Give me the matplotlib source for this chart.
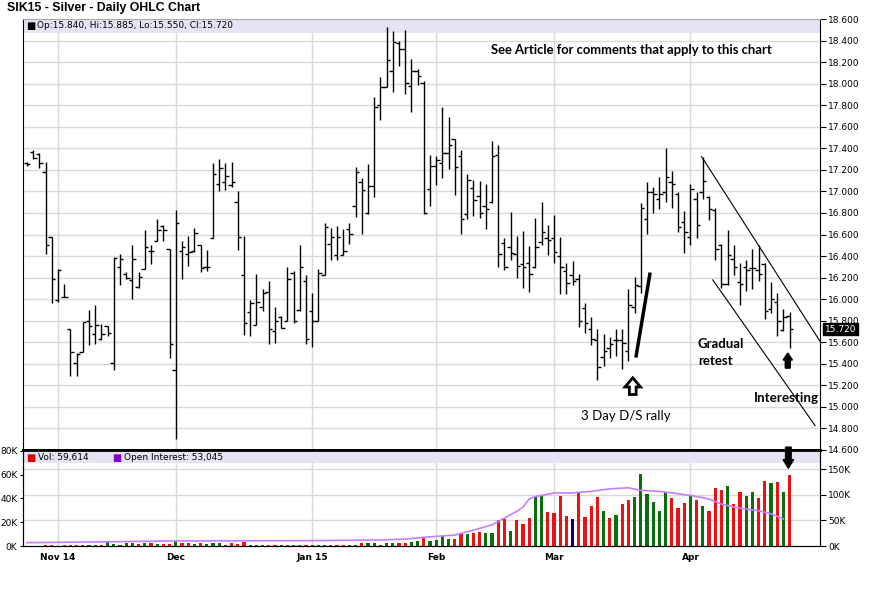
import numpy as np
import pandas as pd
import matplotlib
matplotlib.use('Agg')
import matplotlib.pyplot as plt
import matplotlib.transforms as mtransforms
from matplotlib.patches import Rectangle, FancyArrow

# trading days Oct 27 2014 .. Apr 24 2015 (exchange holidays removed)
holidays = ['2014-11-27', '2014-12-25', '2015-01-01', '2015-01-19', '2015-02-16', '2015-04-03']
dates = pd.bdate_range('2014-10-27', '2015-04-24')
dates = dates[~dates.isin(pd.to_datetime(holidays))]

month_labels = ['Nov 14', 'Dec', 'Jan 15', 'Feb', 'Mar', 'Apr']

opens = [17.26, 17.37, 17.35, 17.18, 16.58, 15.99, 16.02, 15.72, 15.41, 15.51,
         15.80, 15.68, 15.63, 15.75, 15.41, 16.30, 16.23, 16.18, 16.11, 16.28,
         16.45, 16.54, 16.68, 16.47, 15.34, 16.45, 16.42, 16.45, 16.50, 16.30,
         16.57, 17.07, 17.09, 17.06, 16.90, 16.22, 15.88, 15.76, 15.93, 16.07,
         15.70, 15.83, 15.80, 16.24, 15.90, 16.17, 15.89, 15.80, 16.22, 16.51,
         16.41, 16.41, 16.65, 16.86, 17.09, 16.80, 17.05, 17.80, 17.97, 18.12,
         18.38, 18.32, 17.98, 18.12, 18.01, 17.02, 17.24, 17.26, 17.36, 17.49,
         17.33, 16.79, 17.03, 16.96, 16.86, 16.90, 17.34, 16.52, 16.48, 16.42,
         16.33, 16.34, 16.30, 16.53, 16.57, 16.57, 16.40, 16.26, 16.22, 16.19,
         15.92, 15.72, 15.62, 15.46, 15.55, 15.62, 15.62, 15.52, 15.93, 16.12,
         16.74, 16.99, 16.93, 16.99, 17.09, 16.98, 16.72, 16.58, 16.93, 16.99,
         16.95, 16.83, 16.50, 16.14, 16.37, 16.16, 16.30, 16.29, 16.27, 16.33,
         15.91, 15.97, 15.71, 15.840]
highs = [17.27, 17.38, 17.36, 17.27, 16.58, 16.28, 16.14, 15.72, 15.50, 15.79,
         15.90, 15.95, 15.77, 15.75, 16.39, 16.42, 16.25, 16.50, 16.25, 16.64,
         16.50, 16.74, 16.69, 16.47, 16.83, 16.54, 16.59, 16.66, 16.50, 16.46,
         17.26, 17.30, 17.26, 17.27, 17.00, 16.59, 15.99, 16.23, 16.09, 16.17,
         15.93, 15.84, 16.30, 16.26, 16.50, 16.22, 16.06, 16.28, 16.71, 16.66,
         16.68, 16.65, 16.71, 17.23, 17.12, 17.25, 17.88, 18.06, 18.53, 18.49,
         18.40, 18.50, 18.23, 18.14, 18.02, 17.34, 17.33, 17.78, 17.69, 17.49,
         17.38, 17.16, 17.11, 17.10, 17.07, 17.47, 17.43, 16.57, 16.81, 16.59,
         16.63, 16.49, 16.75, 16.90, 16.69, 16.78, 16.58, 16.34, 16.35, 16.23,
         15.96, 15.83, 15.72, 15.68, 15.65, 15.72, 15.72, 16.09, 16.21, 16.89,
         17.09, 17.04, 17.13, 17.40, 17.19, 16.99, 16.82, 17.07, 16.99, 17.32,
         16.96, 16.85, 16.51, 16.64, 16.50, 16.34, 16.36, 16.47, 16.50, 16.34,
         16.16, 16.06, 15.91, 15.885]
lows = [17.24, 17.30, 17.22, 16.42, 15.96, 15.97, 16.02, 15.29, 15.29, 15.51,
        15.57, 15.58, 15.62, 15.66, 15.34, 16.13, 16.19, 16.00, 16.10, 16.28,
        16.33, 16.54, 16.54, 15.45, 14.70, 16.19, 16.31, 16.44, 16.25, 16.26,
        16.57, 17.00, 17.01, 17.04, 16.46, 15.67, 15.66, 15.76, 15.89, 15.58,
        15.59, 15.73, 15.80, 15.78, 15.89, 15.58, 15.56, 15.80, 16.22, 16.36,
        16.36, 16.41, 16.51, 16.76, 16.60, 16.79, 16.95, 17.66, 17.97, 17.92,
        18.16, 17.90, 17.74, 17.99, 16.79, 16.86, 17.06, 17.12, 17.21, 16.97,
        16.60, 16.74, 16.77, 16.75, 16.65, 16.89, 16.30, 16.27, 16.36, 16.20,
        16.10, 16.07, 16.29, 16.50, 16.41, 16.34, 16.05, 16.05, 16.13, 15.74,
        15.69, 15.57, 15.25, 15.38, 15.45, 15.47, 15.35, 15.43, 15.87, 16.06,
        16.60, 16.80, 16.84, 16.90, 16.85, 16.62, 16.43, 16.50, 16.57, 16.93,
        16.73, 16.36, 16.10, 16.13, 16.22, 15.95, 16.08, 16.09, 16.17, 15.82,
        15.87, 15.66, 15.70, 15.550]
closes = [17.25, 17.31, 17.26, 16.50, 16.19, 16.27, 16.02, 15.51, 15.49, 15.79,
          15.75, 15.76, 15.68, 15.69, 16.38, 16.37, 16.20, 16.37, 16.21, 16.48,
          16.45, 16.64, 16.64, 15.58, 16.71, 16.48, 16.44, 16.61, 16.29, 16.30,
          17.16, 17.22, 17.14, 17.09, 16.58, 15.78, 15.96, 15.97, 16.06, 15.72,
          15.80, 15.73, 16.19, 15.80, 16.30, 15.63, 15.80, 16.24, 16.67, 16.58,
          16.58, 16.45, 16.60, 17.18, 17.01, 17.05, 17.78, 17.97, 18.22, 18.39,
          18.32, 18.01, 18.12, 18.07, 16.80, 17.24, 17.29, 17.36, 17.43, 17.23,
          16.74, 17.11, 16.92, 16.80, 16.84, 17.33, 16.42, 16.30, 16.43, 16.31,
          16.30, 16.23, 16.48, 16.62, 16.55, 16.44, 16.30, 16.15, 16.17, 15.80,
          15.78, 15.63, 15.37, 15.52, 15.58, 15.62, 15.59, 15.95, 16.13, 16.85,
          16.99, 16.98, 16.98, 17.13, 17.07, 16.67, 16.62, 17.02, 16.69, 17.10,
          16.84, 16.47, 16.14, 16.41, 16.30, 16.14, 16.27, 16.29, 16.23, 15.89,
          16.00, 15.80, 15.83, 15.720]

# volume in thousands of contracts
volume_k = [0, 0, 0, 1.2, 1.0, 0, 1.0, 1.2, 1.2, 1.2,
            1.0, 1.2, 1.2, 3.5, 1.5, 0.5, 2.5, 2.5, 1.5, 2.5,
            2.2, 1.5, 1.5, 1.5, 4.5, 2.5, 2.5, 1.5, 2.2, 1.5,
            2.2, 2.2, 1.0, 2.2, 1.5, 3.5, 1.0, 0.5, 0.5, 1.0,
            1.0, 1.0, 1.0, 1.0, 1.0, 1.0, 1.0, 1.0, 1.0, 1.0,
            1.0, 1.0, 1.0, 1.0, 2.2, 2.2, 2.2, 1.0, 2.2, 2.2,
            2.2, 2.2, 3.5, 4.5, 6.5, 4.5, 5.0, 8.7, 5.9, 5.9,
            10.0, 9.8, 10.7, 12.0, 10.7, 10.7, 21.9, 22.7, 12.9, 21.9,
            18.5, 23.3, 41.0, 42.0, 28.9, 27.5, 42.0, 25.5, 22.5, 44.9,
            24.7, 33.7, 41.0, 29.8, 23.3, 26.1, 35.4, 38.7, 41.0, 60.4,
            43.5, 37.3, 29.8, 45.2, 40.1, 32.3, 36.5, 42.4, 38.7, 34.0,
            29.8, 48.6, 47.2, 50.8, 35.4, 45.8, 42.1, 45.2, 40.7, 55.0,
            53.3, 54.2, 45.2, 59.614]
# u = up, d = down, n = unchanged
vol_dir = ("uddddudddd" "uuduuuuudu" "dudduddudu" "uudddduuud" "dudddduuud"
           "dduuduuuuu" "dduuduuuud" "dudduuddud" "dduuddddnd" "dddudu" "dduu"
           "uuuudddudu" "dddu" "dduudd" "udud")

# open interest, read at a few bar positions (thousands)
oi_idx = [0, 12, 23, 35, 46, 57, 61, 64, 67, 69, 72, 75, 77, 79, 80, 81, 82, 83,
          85, 88, 91, 94, 97, 99, 102, 104, 107, 110, 112, 115, 118, 120, 122]
oi_k = [6.6, 8.0, 9.9, 10.3, 10.5, 11.8, 13.5, 17.0, 19.7, 21.5, 31.0, 41.5, 55.0,
        68.0, 76.0, 92.0, 97.0, 99.0, 104.0, 104.0, 107.0, 112.0, 114.0, 109.0,
        107.0, 104.0, 99.0, 92.0, 82.0, 74.0, 69.0, 63.0, 53.045]

x = np.arange(len(dates))
month_pos = [i for i in range(1, len(dates)) if dates[i].month != dates[i - 1].month]

plt.rcParams['font.family'] = 'DejaVu Sans'
fig = plt.figure(figsize=(8.95, 6.12), dpi=100, facecolor='white')
W, H = 895.0, 612.0
ax = fig.add_axes([23 / W, 1 - 450 / H, 797 / W, 431 / H])
axv = fig.add_axes([23 / W, 1 - 546 / H, 797 / W, 96 / H], sharex=ax)

grid_c = '#d9d9d9'

# ---- price panel ----
ax.set_xlim(-0.65, 127.9)
ax.set_ylim(14.6, 18.6)
ax.set_yticks(np.arange(14.6, 18.61, 0.2))
ax.yaxis.set_major_formatter(matplotlib.ticker.FormatStrFormatter('%.3f'))
ax.yaxis.tick_right()
ax.tick_params(axis='y', labelsize=6.5, length=4, width=0.8, pad=2)
ax.tick_params(axis='x', bottom=False, labelbottom=False)
ax.grid(axis='y', color=grid_c, lw=1)
for p in month_pos:
    ax.axvline(p, color=grid_c, lw=1, zorder=0)
ax.set_axisbelow(True)
ax.spines['bottom'].set_linewidth(2)
ax.spines['top'].set_color('#aaaaaa')

ax.add_patch(Rectangle((0, 0.968), 1, 0.032, transform=ax.transAxes,
                       facecolor='#e4e4f4', edgecolor='none', zorder=0.5))
ax.text(0.004, 0.984, '\u25a0', transform=ax.transAxes, fontsize=7, va='center', color='black')
ax.text(0.018, 0.984, 'Op:%.3f, Hi:%.3f, Lo:%.3f, Cl:%.3f' % (opens[-1], highs[-1], lows[-1], closes[-1]),
        transform=ax.transAxes, fontsize=6.5, va='center')

ax.vlines(x, lows, highs, color='black', lw=1.0)
ax.hlines(opens, x - 0.55, x, color='black', lw=1.0)
ax.hlines(closes, x, x + 0.55, color='black', lw=1.0)

# last price box
trans_r = mtransforms.blended_transform_factory(ax.transAxes, ax.transData)
ax.text(1.006, closes[-1], '%.3f' % closes[-1], transform=trans_r, fontsize=6.5, color='white',
        va='center', ha='left', bbox=dict(boxstyle='square,pad=0.15', fc='black', ec='black'))

# annotations
ax.plot([98.2, 100.5], [15.458, 16.247], color='black', lw=2.5, solid_capstyle='butt')
ax.add_patch(FancyArrow(97.7, 15.115, 0, 0.155, width=1.1, head_width=2.5, head_length=0.085,
                        length_includes_head=True, fc='white', ec='black', lw=2))
ax.add_patch(FancyArrow(122.7, 15.36, 0, 0.14, width=0.8, head_width=1.5, head_length=0.065,
                        length_includes_head=True, fc='black', ec='black', lw=1))
ax.plot([108.8, 127.9], [17.323, 15.609], color='black', lw=0.8)
ax.plot([110.6, 127.1], [16.179, 14.827], color='black', lw=0.8)

ax.text(97.5, 18.316, 'See Article for comments that apply to this chart', family='Lato',
        weight='bold', fontsize=9.4, ha='center', va='center')
ax.text(96.5, 14.92, '3 Day D/S rally', family='Lato', fontsize=9.5, ha='center', va='center')
ax.text(108.2, 15.587, 'Gradual', family='Lato', weight='bold', fontsize=9.5, ha='left', va='center')
ax.text(108.2, 15.43, 'retest', family='Lato', weight='bold', fontsize=9.5, ha='left', va='center')
ax.text(117.3, 15.08, 'Interesting', family='Lato', weight='bold', fontsize=9.6, ha='left', va='center')

fig.text(7 / W, 1 - 8 / H, 'SIK15 - Silver - Daily OHLC Chart', family='Liberation Sans',
         weight='bold', fontsize=8.8, va='center')

# ---- volume panel ----
col_map = {'u': '#0a6e0a', 'd': '#ee1111', 'n': '#000080'}
vcols = [col_map[c] for c in vol_dir]
axv.set_ylim(0, 80.8)
axv.bar(x, volume_k, width=0.5, color=vcols, zorder=2)
axv.set_yticks([0, 20, 40, 60, 80])
axv.set_yticklabels(['%dK' % v for v in [0, 20, 40, 60, 80]])
axv.tick_params(axis='y', labelsize=6.5, length=2, pad=2)
axv.set_xticks(month_pos)
axv.set_xticklabels(month_labels, fontsize=6.5, weight='bold')
axv.tick_params(axis='x', length=0, pad=5)
for p in month_pos:
    axv.axvline(p, color=grid_c, lw=1, zorder=0)

axo = axv.twinx()
axo.set_ylim(0, 188)
axo.set_yticks([0, 50, 100, 150])
axo.set_yticklabels(['0K', '50K', '100K', '150K'])
axo.tick_params(axis='y', labelsize=6.5, length=4, width=0.8, pad=2)
for v in [50, 100, 150]:
    axv.axhline(v * 80.8 / 188, color=grid_c, lw=1, zorder=0)
axo.plot(oi_idx, oi_k, color='#c77dff', lw=1.2, zorder=3)

axv.add_patch(Rectangle((0, 0.865), 1, 0.115, transform=axv.transAxes,
                        facecolor='#e4e4f4', edgecolor='none', zorder=1))
axv.spines['top'].set_linewidth(2)
axv.text(0.004, 0.92, '\u25a0', transform=axv.transAxes, fontsize=7, va='center', color='#dd0000', zorder=4)
axv.text(0.019, 0.92, 'Vol: {:,.0f}'.format(volume_k[-1] * 1000), transform=axv.transAxes,
         fontsize=6.5, va='center', zorder=4)
axv.text(0.112, 0.92, '\u25a0', transform=axv.transAxes, fontsize=7, va='center', color='#8800cc', zorder=4)
axv.text(0.127, 0.92, 'Open Interest: {:,.0f}'.format(oi_k[-1] * 1000), transform=axv.transAxes,
         fontsize=6.5, va='center', zorder=4)

trans_v = mtransforms.blended_transform_factory(axv.transData, axv.transAxes)
axo.add_patch(FancyArrow(122.8, 1.03, 0, -0.22, width=0.9, head_width=1.7, head_length=0.09,
                         length_includes_head=True, fc='black', ec='black', lw=1,
                         transform=trans_v, clip_on=False, zorder=5))

fig.savefig('out.png', dpi=100)
